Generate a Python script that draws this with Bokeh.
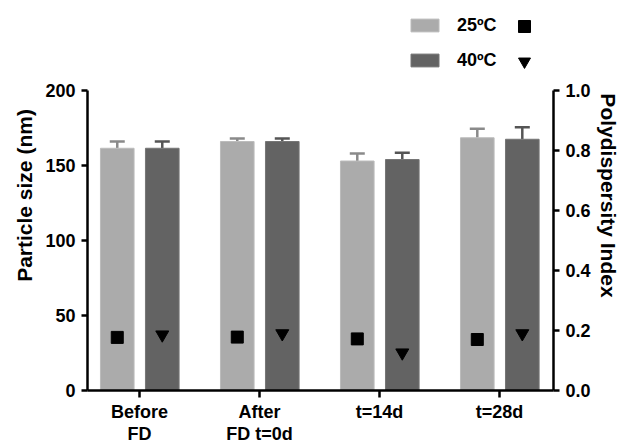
from bokeh.plotting import figure
from bokeh.models import (Range1d, LinearAxis, FixedTicker, PrintfTickFormatter, Whisker,
                          TeeHead, ColumnDataSource, Legend, LegendItem)
from bokeh.embed import file_html
from bokeh.resources import INLINE

# ---- data ----
categories = ["Before\nFD", "After\nFD t=0d", "t=14d", "t=28d"]
series_labels = ["25ºC", "40ºC"]
size_25 = [161.5, 166.0, 153.0, 168.5]
size_25_err = [4.5, 2.0, 5.0, 6.0]
size_40 = [161.5, 166.0, 154.0, 167.5]
size_40_err = [4.5, 2.0, 4.5, 8.0]
pdi_25 = [0.177, 0.178, 0.172, 0.170]
pdi_40 = [0.186, 0.190, 0.126, 0.190]
size_ticks = [0, 50, 100, 150, 200]
pdi_ticks = [0.0, 0.2, 0.4, 0.6, 0.8, 1.0]

FONT = "Liberation Sans"
C25_FILL, C25_LINE, C25_ERR = "#ababab", "#bcbcbc", "#8a8a8a"
C40_FILL, C40_LINE, C40_ERR = "#636363", "#767676", "#555555"

# frame geometry: the frame reaches the top of the canvas (room for the legend);
# the axes themselves are bounded to their data range
FRAME_W, FRAME_H, AXIS_TOP_PX = 466, 390, 90
size_max, pdi_max = size_ticks[-1], pdi_ticks[-1]
y_end = size_max * FRAME_H / (FRAME_H - AXIS_TOP_PX)
pdi_end = pdi_max * FRAME_H / (FRAME_H - AXIS_TOP_PX)

pos = [i + 1 for i in range(len(categories))]
x25 = [p - 0.185 for p in pos]
x40 = [p + 0.19 for p in pos]

p = figure(frame_width=FRAME_W, frame_height=FRAME_H,
           x_range=Range1d(0.567, 4.45), y_range=Range1d(0, y_end),
           output_backend="svg", toolbar_location=None,
           min_border_left=87, min_border_right=66, min_border_top=0, min_border_bottom=50)
p.extra_y_ranges = {"pdi": Range1d(0, pdi_end)}
p.grid.visible = False
p.outline_line_color = None

bars25 = p.vbar(x=x25, top=size_25, width=0.28, fill_color=C25_FILL, line_color=C25_LINE, line_width=1)
bars40 = p.vbar(x=x40, top=size_40, width=0.28, fill_color=C40_FILL, line_color=C40_LINE, line_width=1)

for xs, tops, errs, col in ((x25, size_25, size_25_err, C25_ERR), (x40, size_40, size_40_err, C40_ERR)):
    src = ColumnDataSource(dict(x=xs, lower=tops, upper=[t + e for t, e in zip(tops, errs)]))
    p.add_layout(Whisker(source=src, base="x", lower="lower", upper="upper", dimension="height",
                         line_color=col, line_width=2.5, lower_head=None,
                         upper_head=TeeHead(size=15, line_color=col, line_width=2.5)))

pts25 = p.scatter(x25, pdi_25, y_range_name="pdi", marker="square", size=12, color="black")
pts40 = p.scatter(x40, pdi_40, y_range_name="pdi", marker="inverted_triangle", size=13, color="black")

def style_axis(ax):
    ax.axis_line_width = 2.5
    ax.axis_line_color = "black"
    ax.major_tick_line_width = 2.5
    ax.major_tick_line_color = "black"
    ax.major_tick_in = 0
    ax.major_tick_out = 6
    ax.minor_tick_line_color = None
    ax.major_label_text_font = FONT
    ax.major_label_text_font_style = "bold"
    ax.major_label_text_font_size = "18px"
    ax.major_label_text_color = "black"
    ax.major_label_standoff = 6
    ax.axis_label_text_font = FONT
    ax.axis_label_text_font_style = "bold"
    ax.axis_label_text_font_size = "21px"
    ax.axis_label_text_color = "black"

xa = p.xaxis[0]
style_axis(xa)
xa.ticker = FixedTicker(ticks=pos)
xa.major_label_overrides = {pp: c for pp, c in zip(pos, categories)}
xa.major_tick_out = 7
xa.major_label_standoff = 4
xa.major_label_text_line_height = 1.1

ya = p.yaxis[0]
style_axis(ya)
ya.ticker = FixedTicker(ticks=size_ticks)
ya.bounds = (0, size_max)
ya.axis_label = "Particle size (nm)"
ya.axis_label_standoff = 6

ra = LinearAxis(y_range_name="pdi", ticker=FixedTicker(ticks=pdi_ticks), bounds=(0, pdi_max),
                formatter=PrintfTickFormatter(format="%.1f"), axis_label="Polydispersity Index")
style_axis(ra)
ra.axis_label_standoff = 3
p.add_layout(ra, "right")

leg_common = dict(orientation="vertical", padding=0, margin=0, border_line_color=None,
                  background_fill_alpha=0, label_text_font=FONT, label_text_font_style="bold",
                  label_text_font_size="18px", label_text_color="black")
legend_bars = Legend(items=[LegendItem(label=series_labels[0], renderers=[bars25]),
                            LegendItem(label=series_labels[1], renderers=[bars40])],
                     location=(320, 318), glyph_width=35, glyph_height=16, label_height=24,
                     label_standoff=15, spacing=11, **leg_common)
legend_marks = Legend(items=[LegendItem(label=" ", renderers=[pts25]),
                             LegendItem(label=" ", renderers=[pts40])],
                      location=(422, 314), glyph_width=30, glyph_height=30, label_height=24,
                      label_standoff=0, spacing=5, **leg_common)
p.add_layout(legend_bars)
p.add_layout(legend_marks)

open("out.html", "w").write(file_html(p, INLINE))
